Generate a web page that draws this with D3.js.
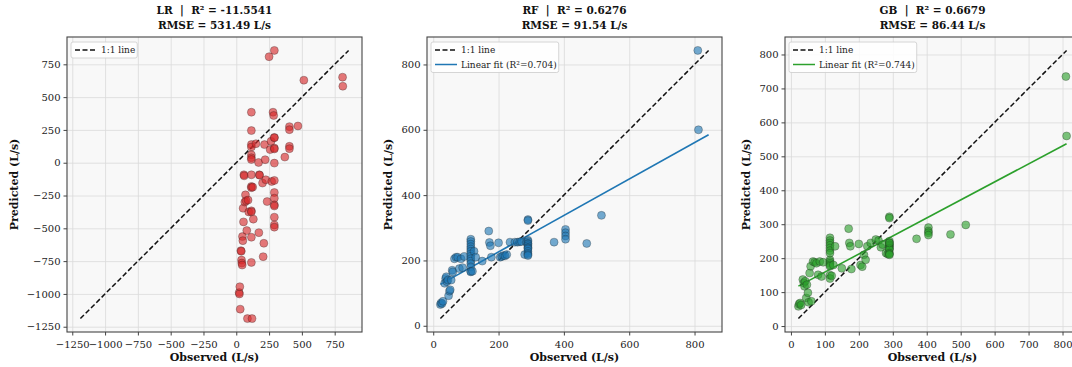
<!DOCTYPE html>
<html>
<head>
<meta charset="utf-8">
<script src="https://cdn.jsdelivr.net/npm/d3@7"></script>
<style>
  body { margin: 0; background: #fff; }
  svg { display: block; font-family: 'DejaVu Serif', serif; }
  .tick text { font-size: 10px; fill: #222; }
  .title { font-size: 10.5px; font-weight: bold; fill: #111; white-space: pre; }
  .axis-label { font-size: 11px; font-weight: bold; fill: #111; }
  .legend text { font-size: 9px; fill: #222; }
</style>
</head>
<body>
<div id="chart"></div>
<script>
// observed flow, shared by all three models
const observed = [
  22, 24, 27, 30,
  35, 38, 40, 42, 45, 47, 50, 52, 55, 58, 60,
  65, 70, 75, 80, 85, 90, 95,
  115, 115, 115, 115, 115, 115, 115, 115, 115, 115, 115, 115, 115, 115,
  120, 125, 130,
  150, 170, 172, 175, 178,
  200, 205, 210, 215, 220, 225, 235,
  250, 258, 265, 270,
  280, 285,
  290, 290, 290, 290, 290, 290, 290, 290, 290, 290, 290, 290, 290, 290,
  370, 405, 405, 405, 405, 470, 515,
  810, 812
];

const predLR = [
  -990, -1000, -945, -1116,
  -670, -675, -742, -765, -780, -563, -594, -347, -451, -92, -100,
  -300, -245, -290, -517, -1188, -285, -375,
  385, 245, 138, 120, 60, 38, 25, -92, -181, -190, -367, -375, -568, -760,
  -1188, -186, -430,
  145, 2, -533, -92, -95,
  -155, -716, -614, 138, 23, -130, -296,
  808, 100, 163, -143,
  385, 360,
  856, 193, 190, 112, 105, -3, -135, -227, -270, -321, -330, -415, -474, -491,
  43, 275, 252, 125, 107, 280, 629,
  652, 583
];

const predRF = [
  65, 70, 68, 75,
  130, 145, 150, 135, 140, 92, 106, 110, 140, 170, 165,
  205, 210, 210, 175, 205, 178, 212,
  265, 258, 250, 242, 235, 228, 220, 212, 205, 198, 190, 180, 167, 165,
  167, 228, 210,
  198, 290, 255, 245, 210,
  254, 210, 212, 215, 214, 218, 256,
  256, 256, 257, 258,
  218, 256,
  325, 322, 262, 258, 252, 250, 245, 240, 238, 235, 228, 222, 218, 215,
  256, 295, 285, 275, 265, 252, 338,
  843, 600
];

const predGB = [
  58, 65, 68, 62,
  137, 127, 117, 132, 83, 122, 98, 70, 156, 176, 73,
  190, 188, 185, 151, 190, 146, 188,
  260, 252, 245, 238, 230, 222, 215, 195, 190, 185, 180, 176, 150, 140,
  148, 180, 235,
  170, 287, 245, 235, 168,
  242, 180, 175, 210, 195, 235, 245,
  255, 252, 232, 240,
  215, 212,
  322, 318, 250, 245, 240, 238, 235, 230, 228, 225, 215, 212, 210, 245,
  257, 290, 280, 275, 268, 270, 298,
  735, 560
];

const models = ['LR', 'RF', 'GB'];
const r2Labels = ['-11.5541', '0.6276', '0.6679'];
const rmseLabels = ['531.49', '91.54', '86.44'];
const fitR2Labels = [null, '0.704', '0.744'];
const colors = ['#d62728', '#1f77b4', '#2ca02c'];
const tickValues = [
  [-1250, -1000, -750, -500, -250, 0, 250, 500, 750],
  [0, 200, 400, 600, 800],
  [0, 100, 200, 300, 400, 500, 600, 700, 800]
];
const predictions = [predLR, predRF, predGB];

const width = 1072;
const height = 367;
const panelLeft = [67, 427, 785];
const panelTop = 37;
const size = 295;

const svg = d3.select('#chart').append('svg')
  .attr('width', width)
  .attr('height', height);

const fmt = d3.format('');

function drawPanel(k) {
  const pred = predictions[k];
  const all = observed.concat(pred);
  const lo = d3.min(all);
  const hi = d3.max(all);
  const pad = (hi - lo) * 0.05;

  const x = d3.scaleLinear().domain([lo - pad, hi + pad]).range([0, size]);
  const y = d3.scaleLinear().domain([lo - pad, hi + pad]).range([size, 0]);

  const g = svg.append('g').attr('transform', `translate(${panelLeft[k]},${panelTop})`);

  g.append('rect')
    .attr('width', size).attr('height', size)
    .attr('fill', '#f8f8f8');

  // grid
  g.append('g')
    .attr('transform', `translate(0,${size})`)
    .call(d3.axisBottom(x).tickValues(tickValues[k]).tickSize(-size).tickFormat(''))
    .call(s => s.select('.domain').remove())
    .call(s => s.selectAll('line').attr('stroke', '#dadada').attr('stroke-width', 0.8));
  g.append('g')
    .call(d3.axisLeft(y).tickValues(tickValues[k]).tickSize(-size).tickFormat(''))
    .call(s => s.select('.domain').remove())
    .call(s => s.selectAll('line').attr('stroke', '#dadada').attr('stroke-width', 0.8));

  // 1:1 line
  g.append('line')
    .attr('x1', x(lo)).attr('y1', y(lo))
    .attr('x2', x(hi)).attr('y2', y(hi))
    .attr('stroke', '#111').attr('stroke-width', 1.5)
    .attr('stroke-dasharray', '5,2.5');

  // least squares fit (not for LR)
  if (fitR2Labels[k]) {
    const mx = d3.mean(observed);
    const my = d3.mean(pred);
    let sxy = 0, sxx = 0;
    observed.forEach((o, i) => {
      sxy += (o - mx) * (pred[i] - my);
      sxx += (o - mx) * (o - mx);
    });
    const slope = sxy / sxx;
    const icpt = my - slope * mx;
    g.append('line')
      .attr('x1', x(lo)).attr('y1', y(icpt + slope * lo))
      .attr('x2', x(hi)).attr('y2', y(icpt + slope * hi))
      .attr('stroke', colors[k]).attr('stroke-width', 1.6);
  }

  g.append('g')
    .selectAll('circle')
    .data(observed)
    .enter()
    .append('circle')
    .attr('cx', d => x(d))
    .attr('cy', (d, i) => y(pred[i]))
    .attr('r', 4)
    .attr('fill', colors[k])
    .attr('fill-opacity', 0.62)
    .attr('stroke', '#222')
    .attr('stroke-opacity', 0.6)
    .attr('stroke-width', 0.5);

  // frame
  g.append('rect')
    .attr('width', size).attr('height', size)
    .attr('fill', 'none')
    .attr('stroke', '#444').attr('stroke-width', 1.1);

  // axes
  g.append('g')
    .attr('transform', `translate(0,${size})`)
    .call(d3.axisBottom(x).tickValues(tickValues[k]).tickSize(3.5).tickFormat(fmt))
    .call(s => s.select('.domain').remove())
    .call(s => s.selectAll('line').attr('stroke', '#444'))
    .call(s => s.selectAll('text').attr('dy', '0.9em').style('font-family', 'DejaVu Serif'));
  g.append('g')
    .call(d3.axisLeft(y).tickValues(tickValues[k]).tickSize(3.5).tickFormat(fmt))
    .call(s => s.select('.domain').remove())
    .call(s => s.selectAll('line').attr('stroke', '#444'))
    .call(s => s.selectAll('text').style('font-family', 'DejaVu Serif'));

  // titles
  g.append('text')
    .attr('class', 'title')
    .attr('x', size / 2).attr('y', -23)
    .attr('text-anchor', 'middle')
    .text(`${models[k]}  |  R² = ${r2Labels[k]}`);
  g.append('text')
    .attr('class', 'title')
    .attr('x', size / 2).attr('y', -8)
    .attr('text-anchor', 'middle')
    .text(`RMSE = ${rmseLabels[k]} L/s`);

  g.append('text')
    .attr('class', 'axis-label')
    .attr('x', size / 2).attr('y', size + 29)
    .attr('text-anchor', 'middle')
    .text('Observed (L/s)');
  g.append('text')
    .attr('class', 'axis-label')
    .attr('transform', 'rotate(-90)')
    .attr('x', -size / 2).attr('y', k === 0 ? -49 : -35)
    .attr('text-anchor', 'middle')
    .text('Predicted (L/s)');

  // legend
  const entries = [{ label: '1:1 line', color: '#111', dash: '5,2.5' }];
  if (fitR2Labels[k]) entries.push({ label: `Linear fit (R²=${fitR2Labels[k]})`, color: colors[k], dash: null });
  const leg = g.append('g').attr('class', 'legend').attr('transform', 'translate(4,5)');
  const box = leg.append('rect')
    .attr('rx', 2)
    .attr('fill', '#fff').attr('fill-opacity', 0.85)
    .attr('stroke', '#ccc').attr('stroke-width', 0.8);
  entries.forEach((e, i) => {
    const row = leg.append('g').attr('transform', `translate(0,${8 + i * 14.5})`);
    row.append('line')
      .attr('x1', 4).attr('x2', 26)
      .attr('stroke', e.color).attr('stroke-width', 1.5)
      .attr('stroke-dasharray', e.dash);
    row.append('text')
      .attr('x', 30).attr('dy', '0.35em')
      .text(e.label);
  });
  const bb = leg.node().getBBox();
  box.attr('x', 0).attr('y', 0)
    .attr('width', bb.width + 6)
    .attr('height', entries.length * 14.5 + 1.5);
}

models.forEach((m, k) => drawPanel(k));
</script>
</body>
</html>
